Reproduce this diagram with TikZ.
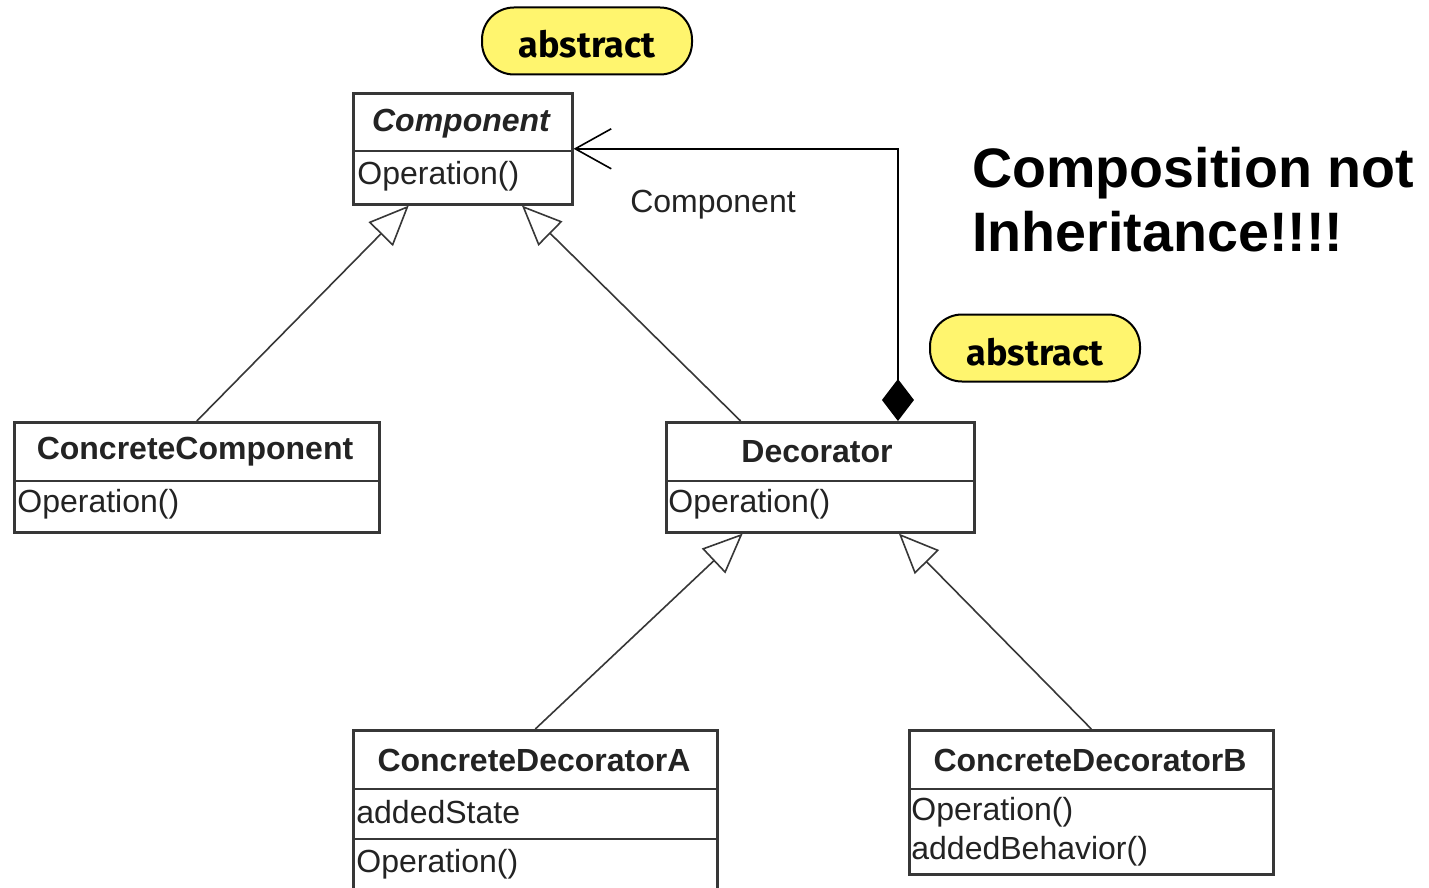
\documentclass[tikz,border=0pt]{standalone}
\usepackage{fontspec}
\setmainfont{Liberation Sans}
\newfontfamily\pillfont{Fira Sans}
\usetikzlibrary{arrows.meta,calc}
\definecolor{umlline}{RGB}{55,55,55}
\definecolor{umltext}{RGB}{35,35,35}
\definecolor{pillyellow}{RGB}{255,245,110}
\begin{document}
\begin{tikzpicture}[x=0.5pt,y=-0.5pt,
  umlbox/.style={draw=umlline, line width=1.3pt, inner sep=0pt, anchor=north west},
  cname/.style={font=\fontsize{16}{19}\selectfont\bfseries, text=umltext, inner sep=0pt},
  member/.style={font=\fontsize{16}{19}\selectfont, text=umltext, inner sep=0pt, anchor=west},
  divider/.style={draw=umlline, line width=1.3pt},
  gen/.style={draw=umlline, line width=0.8pt, -{Triangle[open,length=20pt,width=17pt,fill=white]}},
  agg/.style={draw=black, line width=0.8pt, {Diamond[length=21pt,width=16pt]}-{Straight Barb[length=18pt,width=20pt]}},
  pill/.style={draw=black, line width=1pt, fill=pillyellow, rounded corners=16pt, minimum width=105pt, minimum height=33.5pt, inner sep=0pt, text height=17pt, text depth=0pt, font=\pillfont\bfseries\fontsize{18}{20}\selectfont},
  title/.style={font=\fontsize{27.8}{32}\selectfont\bfseries, align=left, inner sep=0pt, anchor=north west}
]
\useasboundingbox[fill=white] (0,0) rectangle (1429,888);

% Component
\node[umlbox, minimum width=109.5pt, minimum height=55.5pt] (comp) at (352,92) {};
\draw[divider] (352,151) -- (571,151);
\node[cname, font=\fontsize{16}{19}\selectfont\bfseries\itshape] (compname) at (461,124) {Component};
\node[member] (compop) at (357,176) {Operation()};

% ConcreteComponent
\node[umlbox, minimum width=182.5pt, minimum height=55pt] (cc) at (13,421) {};
\draw[divider] (13,481) -- (378,481);
\node[cname] (ccname) at (195,452) {ConcreteComponent};
\node[member] (ccop) at (17,504) {Operation()};

% Decorator
\node[umlbox, minimum width=154pt, minimum height=55pt] (dec) at (665,421) {};
\draw[divider] (665,481) -- (973,481);
\node[cname] (decname) at (817,452) {Decorator};
\node[member] (decop) at (668,504) {Operation()};

% ConcreteDecoratorA
\node[umlbox, minimum width=182pt, minimum height=84pt] (cda) at (352,729) {};
\draw[divider] (352,789) -- (716,789);
\draw[divider] (352,839) -- (716,839);
\node[cname] (cdaname) at (534,760) {ConcreteDecoratorA};
\node[member] (cdastate) at (356,812) {addedState};
\node[member] (cdaop) at (356,864) {Operation()};

% ConcreteDecoratorB
\node[umlbox, minimum width=182pt, minimum height=72pt] (cdb) at (908,729) {};
\draw[divider] (908,789) -- (1272,789);
\node[cname] (cdbname) at (1090,760) {ConcreteDecoratorB};
\node[member] (cdbop) at (911,812) {Operation()};
\node[member] (cdbbeh) at (911,851) {addedBehavior()};

% Generalizations
\draw[gen] (cc.north) -- ($(comp.south west)!0.256!(comp.south east)$);
\draw[gen] ($(dec.north west)!0.2435!(dec.north east)$) -- ($(comp.south west)!0.767!(comp.south east)$);
\draw[gen] (cda.north) -- ($(dec.south west)!0.25!(dec.south east)$);
\draw[gen] (cdb.north) -- ($(dec.south west)!0.753!(dec.south east)$);

% Aggregation
\draw[agg] ($(dec.north west)!0.75!(dec.north east)$) |- (comp.east);
\node[member, anchor=center] (rolelabel) at (713,205) {Component};

% Notes
\node[pill] (abs1) at (587,41) {abstract};
\node[pill] (abs2) at (1035,348) {abstract};

\node[title] (slogan) at (972,147) {Composition not\\Inheritance!!!!};
\end{tikzpicture}
\end{document}
